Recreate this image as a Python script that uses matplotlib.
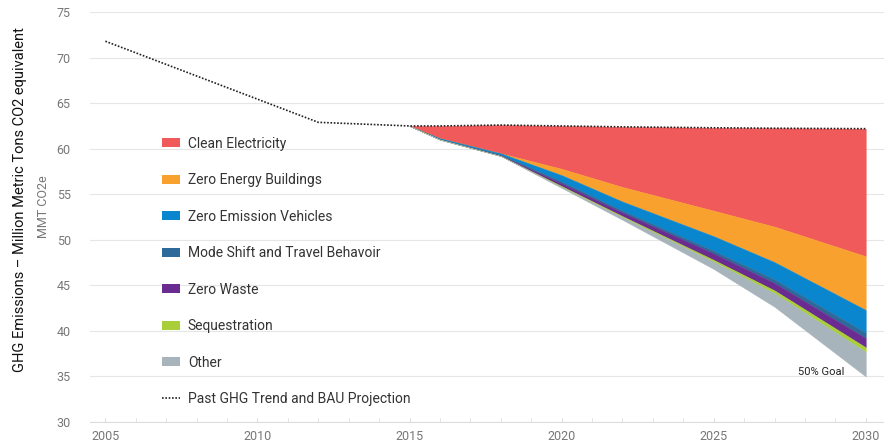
import matplotlib
matplotlib.use("Agg")
import matplotlib.pyplot as plt
from matplotlib.patches import Patch
from matplotlib.lines import Line2D
import numpy as np

plt.rcParams['font.family'] = ['Roboto', 'DejaVu Sans']

# past trend and BAU projection (MMT CO2e)
trend_years = [2005, 2012, 2015, 2016, 2018, 2020, 2022, 2025, 2027, 2030]
trend_vals = [71.8, 62.9, 62.5, 62.5, 62.6, 62.5, 62.4, 62.3, 62.25, 62.2]

# reduction wedges stacked down from the BAU line
wedge_years = [2015, 2016, 2018, 2020, 2022, 2025, 2027, 2030]
bau = [62.5, 62.5, 62.6, 62.5, 62.4, 62.3, 62.25, 62.2]
labels = ["Clean Electricity", "Zero Energy Buildings", "Zero Emission Vehicles",
          "Mode Shift and Travel Behavoir", "Zero Waste", "Sequestration", "Other"]
clean_elec = [0, 1.35, 3.1, 4.7, 6.6, 9.1, 10.8, 14.0]
zero_bldg = [0, 0.0, 0.0, 0.7, 1.6, 2.8, 3.9, 5.9]
zev = [0, 0.08, 0.15, 0.7, 1.0, 1.6, 1.9, 2.5]
mode_shift = [0, 0.07, 0.1, 0.2, 0.2, 0.3, 0.4, 0.6]
zero_waste = [0, 0.0, 0.05, 0.3, 0.4, 0.7, 0.8, 1.0]
sequestration = [0, 0.0, 0.0, 0.1, 0.1, 0.2, 0.3, 0.5]
other = [0, 0.0, 0.0, 0.1, 0.3, 0.8, 1.5, 2.7]
colors = ["#f05a5b", "#f9a12e", "#0a86cf", "#2e6a99", "#6a2c91", "#a8cf38", "#a7b4bc"]

wedges = [clean_elec, zero_bldg, zev, mode_shift, zero_waste, sequestration, other]

fig = plt.figure(figsize=(8.84, 4.48), dpi=100)
ax = fig.add_axes([0.102, 0.058, 0.898, 0.915])

top = np.array(bau, dtype=float)
for vals, col in zip(wedges, colors):
    bottom = top - np.array(vals)
    ax.fill_between(wedge_years, bottom, top, color=col, lw=0.3, edgecolor=col, zorder=2)
    top = bottom

ax.plot(trend_years, trend_vals, color="#222222", ls=(0, (1, 1)), lw=1.2, zorder=3)

ax.text(2028.55, 35.5, "50% Goal", fontsize=8, color="#222222", ha="center", va="center")

ax.set_xlim(2004.5, 2030.6)
ax.set_ylim(30, 75)
ax.set_xticks(range(2005, 2031, 5))
ax.set_xticks(range(2005, 2031), minor=True)
ax.set_yticks(range(30, 76, 5))
ax.grid(axis="y", color="#e6e6e6", lw=0.8, zorder=0)
ax.set_axisbelow(True)
for s in ["top", "right", "left"]:
    ax.spines[s].set_visible(False)
ax.spines["bottom"].set_color("#dddddd")
ax.tick_params(axis="x", which="both", direction="in", length=3, color="#dddddd",
               labelsize=9, labelcolor="#777777", pad=6)
ax.tick_params(axis="y", length=0, labelsize=9, labelcolor="#777777", pad=14)

fig.text(0.023, 0.554, "GHG Emissions \u2013 Million Metric Tons CO2 equivalent",
         rotation=90, fontsize=10.5, color="#111111", ha="center", va="center")
fig.text(0.049, 0.538, "MMT CO2e", rotation=90, fontsize=9, color="#777777",
         ha="center", va="center")

handles = [Patch(facecolor=c, edgecolor="none") for c in colors]
handles.append(Line2D([0], [0], color="#222222", ls=(0, (1, 1)), lw=1.2))
leg = ax.legend(handles, labels + ["Past GHG Trend and BAU Projection"],
                loc="upper left", bbox_to_anchor=(0.075, 0.727), frameon=False,
                fontsize=10, labelspacing=1.62, handlelength=1.3, handleheight=0.6,
                handletextpad=0.55, labelcolor="#333333")

fig.savefig("out.png", dpi=100)
